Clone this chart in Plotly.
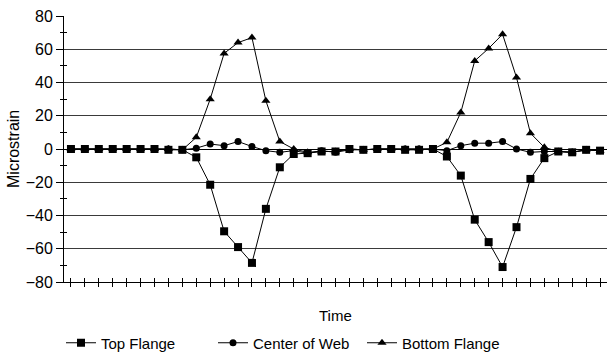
import plotly.graph_objects as go

# ---- data ----
time_points = list(range(1, 40))
top_flange = [0, 0, 0, 0, 0, 0, 0, -0.5, -0.5, -5, -21.5, -49.5, -59, -68.5, -36, -11,
              -3, -2.5, -1.5, -1.5, 0, -0.5, 0, 0, -0.5, -0.5, 0, -4.5, -16, -42.5,
              -56, -71, -47, -18, -5.5, -1.5, -2, -0.5, -1]
center_web = [0, 0, 0, 0, 0, 0, 0, 0, -0.5, 0.5, 3, 2, 4.5, 1.5, -1, -2,
              -1, -2.5, -1, -2, -0.5, -0.5, 0, 0, 0, 0, 0, -1, 2, 3.5,
              3.5, 4.5, 0, -2, -1.5, -1.5, -2, -0.5, -1]
bottom_flange = [0, 0, 0, 0, 0, 0, 0, 0, -0.5, 7, 30, 57.5, 64, 67, 29, 4.5,
                 0, -2, -1.5, -1.5, 0, -0.5, 0, 0, 0, 0, 0, 4, 22, 53,
                 60.5, 69, 43, 9.5, 1, -1.5, -2, -0.5, -1]
y_ticks = [-80, -60, -40, -20, 0, 20, 40, 60, 80]
y_minor = [-70, -50, -30, -10, 10, 30, 50, 70]

FONT = "Liberation Sans, Arial, sans-serif"
W, H = 607, 358
L, R, T, B = 64, 0, 16, 76
pw, ph = W - L - R, H - T - B

fig = go.Figure()
series = [
    ("Top Flange", top_flange, "square", 8, "legend"),
    ("Center of Web", center_web, "circle", 7, "legend2"),
    ("Bottom Flange", bottom_flange, "triangle-up", 8, "legend3"),
]
for name, vals, sym, sz, lg in series:
    fig.add_trace(go.Scatter(
        x=time_points, y=vals, name=name, mode="lines+markers",
        line=dict(color="black", width=1),
        marker=dict(symbol=sym, size=sz, color="black"),
        legend=lg,
    ))

xr = [time_points[0] - 0.5, time_points[-1] + 0.5]

def px_x(p):
    return (p - L) / pw

def px_y(p):
    return (H - B - p) / ph

legend_y = px_y(343)
common_leg = dict(orientation="h", yanchor="middle", y=legend_y, xanchor="left",
                  font=dict(family=FONT, size=15, color="black"),
                  bgcolor="rgba(0,0,0,0)", borderwidth=0, tracegroupgap=0)

fig.update_layout(
    template="none",
    width=W, height=H,
    margin=dict(l=L, r=R, t=T, b=B, pad=0, autoexpand=False),
    paper_bgcolor="white", plot_bgcolor="white",
    font=dict(family=FONT, size=16, color="black"),
    showlegend=True,
    legend=dict(x=px_x(61), **common_leg),
    legend2=dict(x=px_x(213), **common_leg),
    legend3=dict(x=px_x(362), **common_leg),
    xaxis=dict(range=xr, showgrid=False, zeroline=False, showticklabels=False,
               automargin=False,
               showline=True, linecolor="black", linewidth=1,
               ticks="outside", ticklen=4, tickcolor="black", tickwidth=1,
               tickvals=time_points),
    xaxis2=dict(range=xr, overlaying="x", side="bottom", showgrid=False, zeroline=False,
                automargin=False,
                showticklabels=False, showline=False, ticks="inside", ticklen=4,
                tickcolor="black", tickwidth=1, tickvals=time_points),
    yaxis=dict(range=[-80, 80], tickvals=y_ticks, showgrid=True, gridcolor="#3a3a3a",
               automargin=False,
               gridwidth=1, zeroline=True, zerolinecolor="black", zerolinewidth=1,
               showline=True, linecolor="black", linewidth=1,
               ticks="outside", ticklen=7, tickcolor="black", tickwidth=1,
               tickfont=dict(family=FONT, size=16, color="black")),
    yaxis2=dict(range=[-80, 80], overlaying="y", side="left", showgrid=False,
                automargin=False,
                zeroline=False, showticklabels=False, showline=False,
                tickvals=y_minor, ticks="inside", ticklen=3, tickcolor="black"),
    yaxis3=dict(range=[-80, 80], overlaying="y", side="left", showgrid=False,
                automargin=False,
                zeroline=False, showticklabels=False, showline=False,
                tickvals=y_minor, ticks="outside", ticklen=3, tickcolor="black"),
    annotations=[
        dict(text="Time", xref="paper", yref="paper", x=0.5, y=px_y(315),
             showarrow=False, font=dict(family=FONT, size=15, color="black"),
             xanchor="center", yanchor="middle"),
        dict(text="Microstrain", xref="paper", yref="paper", x=px_x(13), y=0.5,
             textangle=-90, showarrow=False,
             font=dict(family=FONT, size=16, color="black"),
             xanchor="center", yanchor="middle"),
    ],
)

# invisible helper traces so the overlay tick axes are drawn
fig.add_trace(go.Scatter(x=[None], y=[None], xaxis="x2", yaxis="y2",
                         showlegend=False, hoverinfo="skip"))
fig.add_trace(go.Scatter(x=[None], y=[None], xaxis="x2", yaxis="y3",
                         showlegend=False, hoverinfo="skip"))

fig.write_html("out.html",
               config={"displayModeBar": False},
               post_script="document.body.style.margin='0';"
                           "document.body.style.overflow='hidden';")
